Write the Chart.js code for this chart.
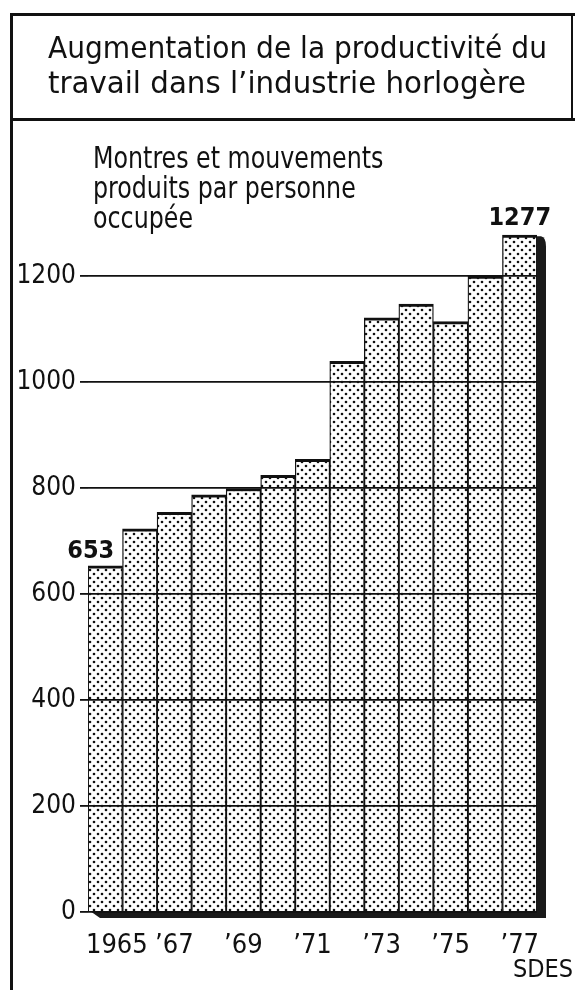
<!DOCTYPE html>
<html>
<head>
<meta charset="utf-8">
<script src="https://cdn.jsdelivr.net/npm/chart.js@4.4.1/dist/chart.umd.min.js"></script>
<style>
  html, body { margin: 0; padding: 0; background: #fff; }
  body { width: 575px; height: 990px; position: relative; overflow: hidden;
         font-family: "DejaVu Sans Condensed", "DejaVu Sans", sans-serif; color: #111; }
  #wrap { position: absolute; left: 0; top: 0; width: 575px; height: 990px; }
  .line { position: absolute; background: #111; }
  .txt { position: absolute; white-space: nowrap; transform-origin: 0 0; }
</style>
</head>
<body>
<div id="wrap"><canvas id="c" width="575" height="990"></canvas></div>
<div class="line" style="left:10px; top:13px; width:565px; height:3px;"></div>
<div class="line" style="left:10px; top:13px; width:3px; height:977px;"></div>
<div class="line" style="left:571px; top:13px; width:2px; height:108px;"></div>
<div class="line" style="left:10px; top:118px; width:565px; height:3px;"></div>
<div class="txt" style="left:48px; top:30px; font-size:30px; line-height:35px; transform:scaleX(1.04);">Augmentation de la productivité du</div>
<div class="txt" style="left:48px; top:65px; font-size:30px; line-height:35px; transform:scaleX(1.085);">travail dans l’industrie horlogère</div>
<div class="txt" id="sub" style="left:93px; top:143px; font-size:30px; line-height:30px; transform:scaleX(0.88);">Montres et mouvements<br>produits par personne<br>occupée</div>
<div class="txt" id="src" style="right:2px; top:954px; font-size:25px; line-height:30px;">SDES</div>
<script>
const years = ['1965','1966','1967','1968','1969','1970','1971','1972','1973','1974','1975','1976','1977'];
const values = [653, 723, 754, 787, 799, 824, 854, 1039, 1121, 1147, 1114, 1200, 1277];
const xTickLabels = ['\u00a0\u00a0\u00a01965','','\u201967','','\u201969','','\u201971','','\u201973','','\u201975','','\u201977'];
const yTicks = [0, 200, 400, 600, 800, 1000, 1200];
const labelledValues = {0: '653', 12: '1277'};

const FONT = '"DejaVu Sans Condensed", "DejaVu Sans", sans-serif';

function dotPattern(ctx) {
  const c = document.createElement('canvas');
  c.width = 8; c.height = 8;
  const p = c.getContext('2d');
  p.fillStyle = '#fff';
  p.fillRect(0, 0, 8, 8);
  p.fillStyle = '#111';
  p.beginPath(); p.arc(2, 2, 1.3, 0, Math.PI * 2); p.fill();
  p.beginPath(); p.arc(6, 6, 1.3, 0, Math.PI * 2); p.fill();
  return ctx.createPattern(c, 'repeat');
}

const cv = document.getElementById('c');
const ctx = cv.getContext('2d');

const decorPlugin = {
  id: 'decor',
  afterDatasetsDraw(chart) {
    const meta = chart.getDatasetMeta(0);
    const bars = meta.data;
    const first = bars[0], last = bars[bars.length - 1];
    const c = chart.ctx;
    const base = last.base;
    const w = last.width;
    const x0 = last.x + w / 2;
    const x1 = x0 + 9;
    const top = last.y + 1;
    c.save();
    c.fillStyle = '#1a1a1a';
    c.beginPath();
    c.moveTo(x0, top);
    c.lineTo(x1 - 5, top);
    c.quadraticCurveTo(x1, top + 1, x1, top + 10);
    c.lineTo(x1, base + 7);
    c.lineTo(x0, base + 7);
    c.closePath();
    c.fill();
    const left = first.x - first.width / 2;
    c.beginPath();
    c.moveTo(left + 2, base);
    c.lineTo(x1, base);
    c.lineTo(x1, base + 7);
    c.lineTo(left + 12, base + 7);
    c.closePath();
    c.fill();
    c.fillStyle = '#111';
    c.font = 'bold 25px ' + FONT;
    c.textBaseline = 'alphabetic';
    Object.keys(labelledValues).forEach(k => {
      const i = +k;
      const b = bars[i];
      if (i === 0) {
        c.textAlign = 'right';
        c.fillText(labelledValues[k], b.x + 9, b.y - 8);
      } else {
        c.textAlign = 'center';
        c.fillText(labelledValues[k], b.x, b.y - 10);
      }
    });
    c.restore();
  }
};

new Chart(ctx, {
  type: 'bar',
  data: {
    labels: years,
    datasets: [{
      data: values,
      backgroundColor: dotPattern(ctx),
      borderColor: '#111',
      borderWidth: { top: 3, left: 1.3, right: 1.3, bottom: 0 },
      borderSkipped: false,
      categoryPercentage: 1.0,
      barPercentage: 1.0
    }]
  },
  options: {
    responsive: false,
    animation: false,
    events: [],
    layout: { padding: { left: 0, right: 38, top: 223, bottom: 0 } },
    plugins: { legend: { display: false }, tooltip: { enabled: false } },
    scales: {
      x: {
        grid: { display: false, drawTicks: false },
        border: { display: false },
        ticks: {
          autoSkip: false,
          maxRotation: 0,
          padding: 18,
          color: '#111',
          font: { family: FONT, size: 27 },
          callback: (v, i) => xTickLabels[i]
        },
        afterFit: s => { s.height = 78; }
      },
      y: {
        min: 0,
        max: 1300,
        border: { display: false },
        grid: { z: 1, color: '#111', lineWidth: 1.8, tickLength: 8, drawTicks: true },
        ticks: {
          padding: 4,
          color: '#111',
          font: { family: FONT, size: 26 },
          callback: v => String(v)
        },
        afterBuildTicks: s => { s.ticks = yTicks.map(v => ({ value: v })); },
        afterFit: s => { s.width = 88; }
      }
    }
  },
  plugins: [decorPlugin]
});
</script>
</body>
</html>
